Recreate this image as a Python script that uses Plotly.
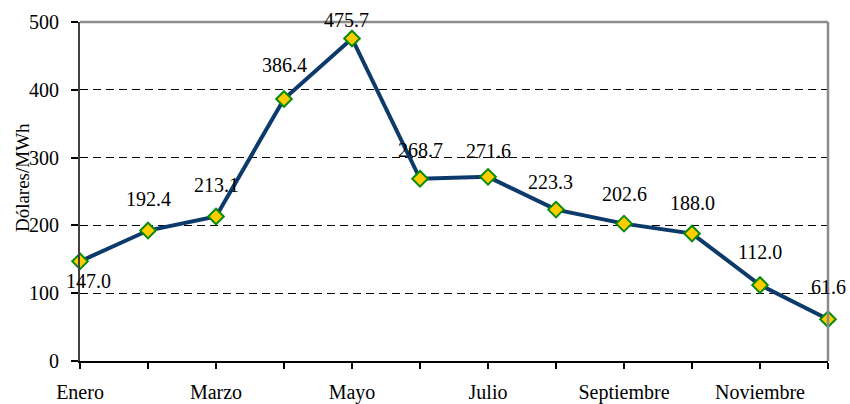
import plotly.graph_objects as go

# Monthly price, USD per MWh
months = ["Enero", "Febrero", "Marzo", "Abril", "Mayo", "Junio", "Julio",
          "Agosto", "Septiembre", "Octubre", "Noviembre", "Diciembre"]
prices = [147.0, 192.4, 213.1, 386.4, 475.7, 268.7, 271.6,
          223.3, 202.6, 188.0, 112.0, 61.6]
month_labels = [m if i % 2 == 0 else "" for i, m in enumerate(months)]
y_ticks = [0, 100, 200, 300, 400, 500]

# Per-label offsets (pixels) for the value labels
label_dx = [8, 0, 0, 0, -6, 0, 0, -6, 0, 0, 0, 0]
label_dy = [-20, 32, 32, 34, 18, 29, 26, 28, 30, 31, 33, 32]

FONT = "Liberation Serif, Times New Roman, serif"

fig = go.Figure()
fig.add_trace(go.Scatter(
    x=months, y=prices, mode="lines+markers",
    line=dict(color="#0b3a6b", width=4),
    marker=dict(symbol="diamond", size=12, color="#ffcc00",
                line=dict(color="#0a8a0a", width=2)),
    cliponaxis=False, showlegend=False, hoverinfo="x+y",
))

annotations = []
for m, v, dx, dy in zip(months, prices, label_dx, label_dy):
    annotations.append(dict(
        x=m, y=v, xref="x", yref="y", text=f"{v:.1f}", showarrow=False,
        xanchor="center", yanchor="middle",
        xshift=dx, yshift=dy, font=dict(family=FONT, size=20, color="#000"),
    ))
annotations.append(dict(
    x=-0.076, y=0.54, xref="paper", yref="paper", text="Dólares/MWh",
    xanchor="center", yanchor="middle",
    textangle=-90, showarrow=False, font=dict(family=FONT, size=19, color="#000"),
))

shapes = [
    # gray frame on top and right of the plotting area
    dict(type="line", xref="paper", yref="paper", x0=0, x1=1, y0=1, y1=1,
         line=dict(color="#8c8c8c", width=2.5)),
    dict(type="line", xref="paper", yref="paper", x0=1, x1=1, y0=0, y1=1,
         line=dict(color="#8c8c8c", width=2.5)),
]

fig.update_layout(
    width=850, height=404,
    margin=dict(l=80, r=22, t=22, b=43),
    paper_bgcolor="white", plot_bgcolor="white",
    font=dict(family=FONT, size=20, color="#000"),
    annotations=annotations, shapes=shapes,
    xaxis=dict(
        type="category", range=[0, 11], automargin=False,
        tickmode="array", tickvals=months, ticktext=month_labels,
        showgrid=False, zeroline=False,
        showline=True, linecolor="#000", linewidth=2,
        ticks="outside", ticklen=6, tickwidth=1.5, tickcolor="#000",
        ticklabelstandoff=6,
        tickfont=dict(family=FONT, size=20, color="#000"),
    ),
    yaxis=dict(
        range=[0, 500], tickmode="array", tickvals=y_ticks, automargin=False,
        showgrid=True, gridcolor="#000", griddash="8px,5px", gridwidth=1,
        zeroline=False,
        showline=True, linecolor="#404040", linewidth=2,
        ticks="outside", ticklen=7, tickwidth=1.5, tickcolor="#000",
        ticklabelstandoff=8,
        tickfont=dict(family=FONT, size=20, color="#000"),
    ),
)

fig.write_html("out.html")
